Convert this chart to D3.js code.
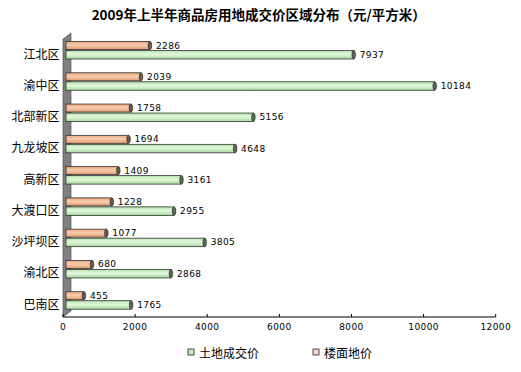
<!DOCTYPE html>
<html><head><meta charset="utf-8">
<script src="https://cdn.jsdelivr.net/npm/d3@7/dist/d3.min.js"></script>
<style>body{margin:0;background:#fff}</style>
</head><body><svg id="c" width="521" height="372"></svg>
<script>
const categories = ["江北区","渝中区","北部新区","九龙坡区","高新区","大渡口区","沙坪坝区","渝北区","巴南区"];
const landPrice = [7937,10184,5156,4648,3161,2955,3805,2868,1765];
const floorPrice = [2286,2039,1758,1694,1409,1228,1077,680,455];
const xTicks = [0,2000,4000,6000,8000,10000,12000];
const seriesNames = ["土地成交价","楼面地价"];
const title = "2009年上半年商品房用地成交价区域分布（元/平方米）";

const svg = d3.select("#c");
const cjk = "'Noto Sans CJK SC','Noto Sans',sans-serif";
const num = "'DejaVu Sans',sans-serif";
const x = d3.scaleLinear().domain([0,12000]).range([63,495.7]);
const y = d3.scaleBand().domain(categories).range([33,314.5]);
const depth = 4.5;

const defs = svg.append("defs");
function grad(id, stops){
  const g = defs.append("linearGradient").attr("id",id).attr("x1",0).attr("y1",0).attr("x2",0).attr("y2",1);
  stops.forEach(s=>g.append("stop").attr("offset",s[0]).attr("stop-color",s[1]));
}
grad("gOr",[[0,"#E9A57A"],[0.45,"#F8CDAE"],[1,"#DE9A6C"]]);
grad("gGr",[[0,"#B5E4AE"],[0.45,"#E2F8DC"],[1,"#A6D89E"]]);

svg.append("text").attr("x",258.7).attr("y",14).attr("text-anchor","middle").attr("dominant-baseline","central")
  .style("font-family",cjk).style("font-weight","bold").style("font-size","13.5px").text(title);

// 3D wall
const y0 = 33, y1 = 317;
svg.append("path").attr("d",`M63,${y0+6}L71,${y0}L71,${y1-6}L63,${y1}Z`).attr("fill","#808080").attr("stroke","#404040").attr("stroke-width",0.6);

// axis
svg.append("line").attr("x1",63).attr("x2",x(12000)).attr("y1",y1).attr("y2",y1).attr("stroke","#000");
svg.selectAll(".tk").data(xTicks).join("line").attr("x1",d=>x(d)).attr("x2",d=>x(d)).attr("y1",y1-3).attr("y2",y1).attr("stroke","#000");
svg.selectAll(".tl").data(xTicks).join("text").attr("x",d=>x(d)).attr("y",327).attr("text-anchor","middle").attr("dominant-baseline","central")
  .style("font-family",num).style("font-size","9px").style("letter-spacing","0.4px").text(d=>d);

// category labels
svg.selectAll(".cl").data(categories).join("text").attr("x",59.5).attr("y",d=>y(d)+20).attr("text-anchor","end").attr("dominant-baseline","central")
  .style("font-family",cjk).style("font-size","12px").text(d=>d);

function bars(vals, off, h, fill, capFill){
  const g = svg.append("g");
  const data = categories.map((c,i)=>({c, v:vals[i]}));
  g.selectAll("rect").data(data).join("rect")
    .attr("x",66).attr("y",d=>y(d.c)+off).attr("width",d=>x(d.v)+depth-66).attr("height",h)
    .attr("fill",fill).attr("stroke","#333").attr("stroke-width",0.8);
  g.selectAll("ellipse").data(data).join("ellipse")
    .attr("cx",d=>x(d.v)+depth).attr("cy",d=>y(d.c)+off+h/2).attr("rx",1.8).attr("ry",h/2)
    .attr("fill",capFill).attr("stroke","#222").attr("stroke-width",0.6);
  g.selectAll("text").data(data).join("text")
    .attr("x",d=>x(d.v)+depth+6).attr("y",d=>y(d.c)+off+h/2).attr("dominant-baseline","central")
    .style("font-family",num).style("font-size","9px").style("letter-spacing","0.4px").text(d=>d.v);
}
bars(floorPrice, 8.5, 8, "url(#gOr)", "#6a5a50");
bars(landPrice, 17.5, 8.5, "url(#gGr)", "#5a6a58");

// legend
const lg = [{n:seriesNames[0], c:"#C8F0C0", x:188},{n:seriesNames[1], c:"#F5D8CC", x:313}];
lg.forEach(l=>{
  svg.append("rect").attr("x",l.x).attr("y",349).attr("width",6).attr("height",6).attr("fill",l.c).attr("stroke","#222").attr("stroke-width",0.8);
  svg.append("text").attr("x",l.x+11).attr("y",352).attr("dominant-baseline","central").style("font-family",cjk).style("font-size","12px").text(l.n);
});
</script></body></html>
